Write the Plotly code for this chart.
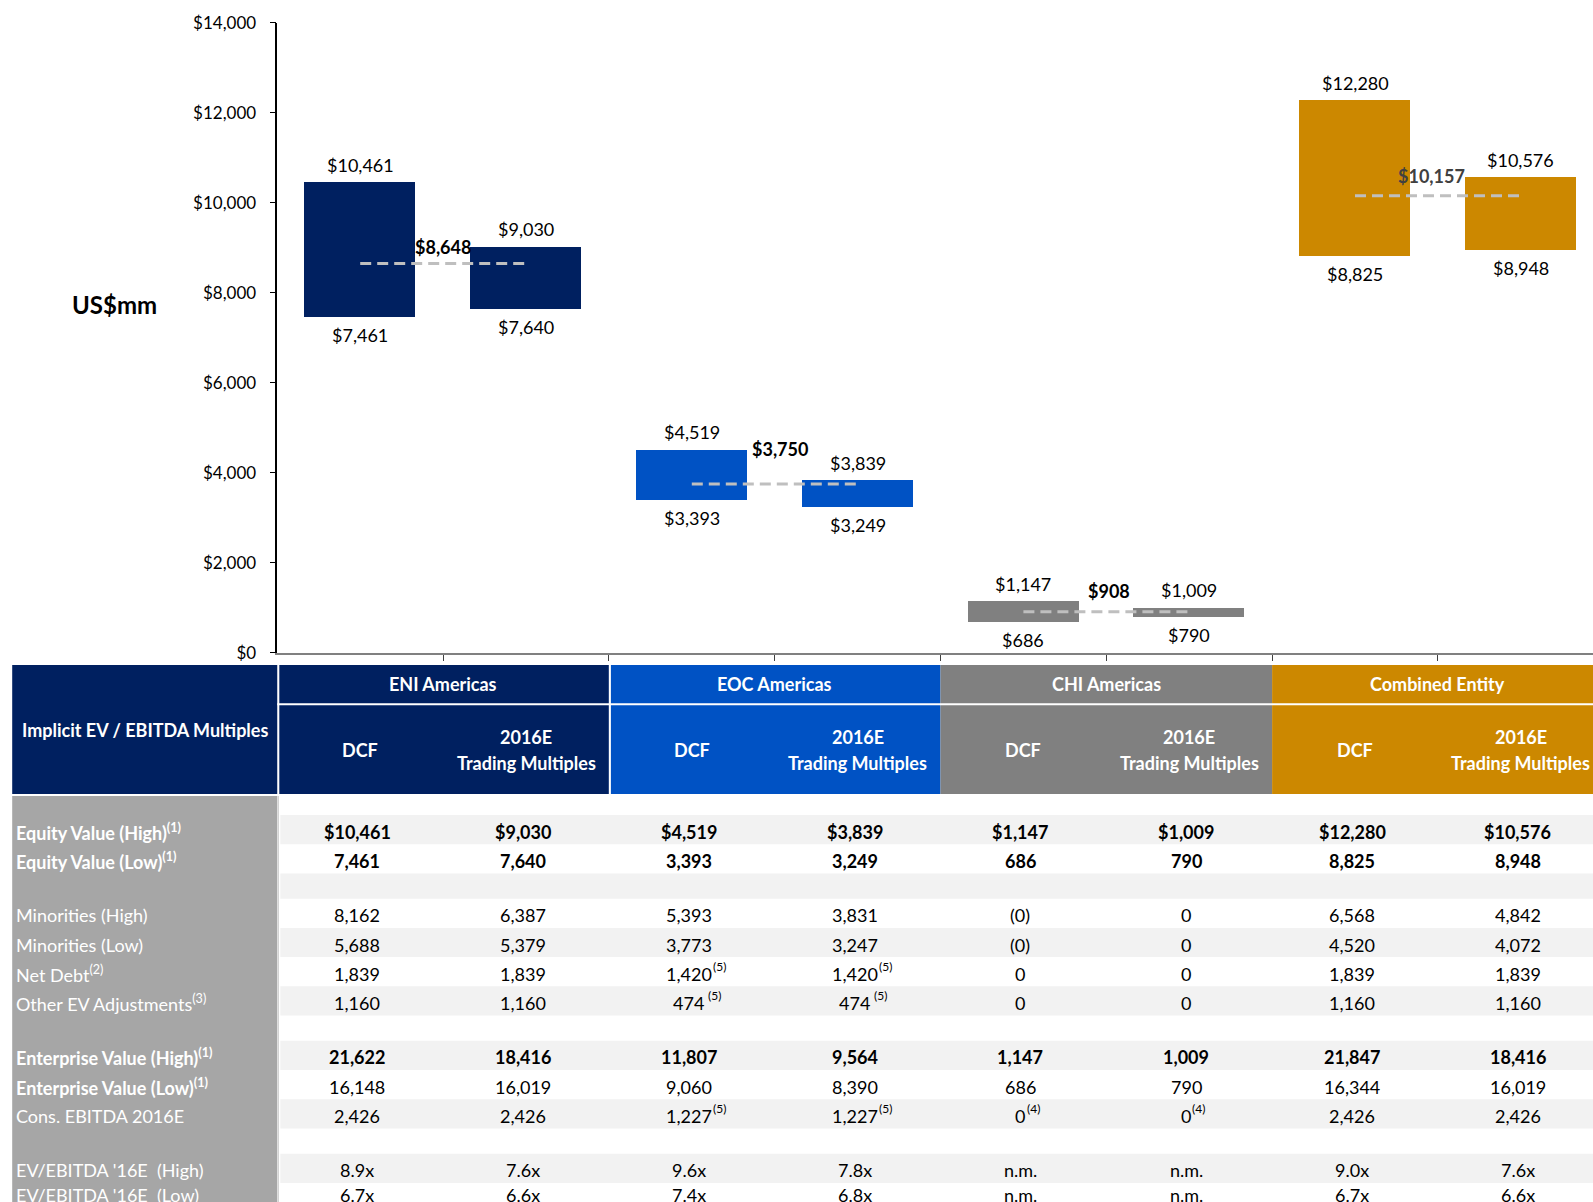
import plotly.graph_objects as go

# ---------------- data ----------------
GROUPS = ["ENI Americas", "EOC Americas", "CHI Americas", "Combined Entity"]
METHODS = ["DCF", "2016E<br>Trading Multiples"]
HIGH = [10461, 9030, 4519, 3839, 1147, 1009, 12280, 10576]
LOW = [7461, 7640, 3393, 3249, 686, 790, 8825, 8948]
MEAN = [8648, 3750, 908, 10157]
Y_TICKS = [0, 2000, 4000, 6000, 8000, 10000, 12000, 14000]
Y_UNIT = "US$mm"
TABLE_TITLE = "Implicit EV / EBITDA Multiples"

ROW_LABELS = [
    None,
    "<b>Equity Value (High)<sup>(1)</sup></b>",
    "<b>Equity Value (Low)<sup>(1)</sup></b>",
    None,
    "Minorities (High)",
    "Minorities (Low)",
    "Net Debt<sup>(2)</sup>",
    "Other EV Adjustments<sup>(3)</sup>",
    None,
    "<b>Enterprise Value (High)<sup>(1)</sup></b>",
    "<b>Enterprise Value (Low)<sup>(1)</sup></b>",
    "Cons. EBITDA 2016E",
    None,
    "EV/EBITDA '16E  (High)",
    "EV/EBITDA '16E  (Low)",
]
EQ_HIGH = ["$10,461", "$9,030", "$4,519", "$3,839", "$1,147", "$1,009", "$12,280", "$10,576"]
EQ_LOW = ["7,461", "7,640", "3,393", "3,249", "686", "790", "8,825", "8,948"]
MIN_HIGH = ["8,162", "6,387", "5,393", "3,831", "(0)", "0", "6,568", "4,842"]
MIN_LOW = ["5,688", "5,379", "3,773", "3,247", "(0)", "0", "4,520", "4,072"]
NET_DEBT = ["1,839", "1,839", "1,420", "1,420", "0", "0", "1,839", "1,839"]
NET_DEBT_NOTE = ["", "", "(5)", "(5)", "", "", "", ""]
OTHER_EV = ["1,160", "1,160", "474", "474", "0", "0", "1,160", "1,160"]
OTHER_EV_NOTE = ["", "", " (5)", " (5)", "", "", "", ""]
EV_HIGH = ["21,622", "18,416", "11,807", "9,564", "1,147", "1,009", "21,847", "18,416"]
EV_LOW = ["16,148", "16,019", "9,060", "8,390", "686", "790", "16,344", "16,019"]
EBITDA = ["2,426", "2,426", "1,227", "1,227", "0", "0", "2,426", "2,426"]
EBITDA_NOTE = ["", "", "(5)", "(5)", "(4)", "(4)", "", ""]
MULT_HIGH = ["8.9x", "7.6x", "9.6x", "7.8x", "n.m.", "n.m.", "9.0x", "7.6x"]
MULT_LOW = ["6.7x", "6.6x", "7.4x", "6.8x", "n.m.", "n.m.", "6.7x", "6.6x"]

ROW_VALUES = [None, EQ_HIGH, EQ_LOW, None, MIN_HIGH, MIN_LOW, NET_DEBT, OTHER_EV,
              None, EV_HIGH, EV_LOW, EBITDA, None, MULT_HIGH, MULT_LOW]
ROW_NOTES = [None, None, None, None, None, None, NET_DEBT_NOTE, OTHER_EV_NOTE,
             None, None, None, EBITDA_NOTE, None, None, None]
ROW_BOLD = [False, True, True, False, False, False, False, False,
            False, True, False, False, False, False, False]

# ---------------- style / layout ----------------
FIG_W, FIG_H = 1593, 1202
FONT = "Lato"
GROUP_COLORS = ["#002060", "#0052C4", "#808080", "#CC8800"]
MEAN_COLORS = ["#000000", "#000000", "#000000", "#404040"]
MEAN_SHIFT = [17, 35, 21, 20]
MEAN_XSHIFT = [0, 5, 3, -6]
LABEL_GRAY = "#A6A6A6"
STRIPE = "#F2F2F2"
DASH_COLOR = "#BFBFBF"
FS = 18

COL_PX = 165.8          # width of one category / table column in px
PLOT_LEFT_PX = 277.3
TABLE_LEFT_PX = 12.2
PLOT_TOP_PX = 22.7
PLOT_BOT_PX = 652.7
TABLE_TOP_PX = 665.0

x_max = -0.5 + (FIG_W - PLOT_LEFT_PX) / COL_PX
x2_min = -0.5 - PLOT_LEFT_PX / COL_PX
label_x0 = -0.5 - (PLOT_LEFT_PX - TABLE_LEFT_PX) / COL_PX

HEAD1_H = 38.3
HEAD_H = 129.0
BODY_GAP = 2.0
ROW_H = [21.0] + [29.2 if lab else 25.3 for lab in ROW_LABELS[1:]]
ROW_H[-1] = 21.0
table_h = FIG_H - TABLE_TOP_PX

fig = go.Figure()

# ---------------- floating bars ----------------
xs = list(range(len(HIGH)))
fig.add_trace(go.Bar(
    x=xs, y=[h - l for h, l in zip(HIGH, LOW)], base=LOW,
    width=0.67, marker=dict(color=[GROUP_COLORS[i // 2] for i in xs], line=dict(width=0)),
    hoverinfo="skip", showlegend=False))

for g, m in enumerate(MEAN):
    fig.add_trace(go.Scatter(
        x=[2 * g, 2 * g + 1], y=[m, m], mode="lines",
        line=dict(color=DASH_COLOR, width=3, dash="11px,6px"),
        hoverinfo="skip", showlegend=False))

ann = []
for i in xs:
    ann.append(dict(x=i, y=HIGH[i], xref="x", yref="y", text=f"${HIGH[i]:,}",
                    showarrow=False, yshift=17, font=dict(size=FS, color="#000")))
    ann.append(dict(x=i, y=LOW[i], xref="x", yref="y", text=f"${LOW[i]:,}",
                    showarrow=False, yshift=-18, font=dict(size=FS, color="#000")))
for g, m in enumerate(MEAN):
    ann.append(dict(x=2 * g + 0.5, y=m, xref="x", yref="y", text=f"<b>${m:,}</b>",
                    showarrow=False, yshift=MEAN_SHIFT[g], xshift=MEAN_XSHIFT[g],
                    font=dict(size=FS, color=MEAN_COLORS[g])))

ann.append(dict(x=114 / FIG_W, y=7730, xref="paper", yref="y", text=f"<b>{Y_UNIT}</b>",
                xanchor="center", showarrow=False, font=dict(size=24, color="#000")))

# ---------------- table ----------------
shapes = []
def rect(x0, x1, y0, y1, color):
    shapes.append(dict(type="rect", xref="x2", yref="y2", x0=x0, x1=x1, y0=y0, y1=y1,
                       fillcolor=color, line=dict(width=0), layer="below"))

rect(label_x0, -0.5, 0, HEAD_H, GROUP_COLORS[0])
for g in range(len(GROUPS)):
    rect(2 * g - 0.5, 2 * g + 1.5, 0, HEAD_H, GROUP_COLORS[g])
rect(label_x0, -0.5, HEAD_H + BODY_GAP, table_h + 20, LABEL_GRAY)

row_tops = []
y = HEAD_H
for h in ROW_H:
    row_tops.append(y)
    y += h
for r, (top, h) in enumerate(zip(row_tops, ROW_H)):
    if r % 2 == 1:
        rect(-0.5 + 3 / COL_PX, x_max + 1, top, top + h, STRIPE)
shapes.append(dict(type="line", xref="x2", yref="y2", x0=-0.5 + 1 / COL_PX, x1=-0.5 + 1 / COL_PX,
                   y0=HEAD_H + BODY_GAP, y1=table_h + 20, line=dict(color="#C8C8C8", width=1)))
shapes.append(dict(type="line", xref="x2", yref="y2", x0=-0.5, x1=x_max + 1,
                   y0=HEAD1_H + 1, y1=HEAD1_H + 1, line=dict(color="white", width=2)))
for xv in (-0.5, 1.5):
    shapes.append(dict(type="line", xref="x2", yref="y2", x0=xv + 1 / COL_PX, x1=xv + 1 / COL_PX,
                       y0=0, y1=HEAD_H, line=dict(color="white", width=2)))

ann.append(dict(x=(label_x0 - 0.5) / 2, y=HEAD_H / 2, xref="x2", yref="y2",
                text=f"<b>{TABLE_TITLE}</b>", showarrow=False,
                font=dict(size=FS, color="white")))
sub_cy = (HEAD1_H + 2 + HEAD_H) / 2
for g, name in enumerate(GROUPS):
    ann.append(dict(x=2 * g + 0.5, y=HEAD1_H / 2, xref="x2", yref="y2", text=f"<b>{name}</b>",
                    showarrow=False, font=dict(size=FS, color="white")))
    for k, meth in enumerate(METHODS):
        lines = meth.split("<br>")
        n = len(lines)
        for li, line in enumerate(lines):
            ann.append(dict(x=2 * g + k, y=sub_cy, xref="x2", yref="y2",
                            text=f"<b>{line}</b>", showarrow=False,
                            yshift=-(li - (n - 1) / 2) * 26,
                            font=dict(size=FS, color="white")))

def text_w(s, fs):
    w = 0.0
    for c in s:
        w += 0.58 if c.isdigit() else (0.22 if c == " " else 0.3)
    return w * fs

for r, lab in enumerate(ROW_LABELS):
    if lab is None:
        continue
    cy = row_tops[r] + ROW_H[r] / 2
    ann.append(dict(x=label_x0 + 2 / COL_PX, y=cy, xref="x2", yref="y2", text=lab,
                    xanchor="left", showarrow=False, yshift=-2,
                    font=dict(size=FS, color="white")))
    vals = ROW_VALUES[r]
    notes = ROW_NOTES[r]
    for j, v in enumerate(vals):
        txt = f"<b>{v}</b>" if ROW_BOLD[r] else v
        ann.append(dict(x=j, y=cy, xref="x2", yref="y2", text=txt, showarrow=False,
                        xshift=-3, yshift=-2, font=dict(size=FS, color="#000")))
        if notes and notes[j]:
            ann.append(dict(x=j, y=cy, xref="x2", yref="y2", text=notes[j], showarrow=False,
                            xanchor="left", xshift=text_w(v, FS) / 2 - 4, yshift=5,
                            font=dict(size=12, color="#000")))

fig.update_layout(
    template="none",
    width=FIG_W, height=FIG_H, margin=dict(l=0, r=0, t=0, b=0, pad=0), autosize=False,
    paper_bgcolor="white", plot_bgcolor="rgba(0,0,0,0)",
    font=dict(family=FONT, color="#000"),
    bargap=0, showlegend=False,
    xaxis=dict(domain=[PLOT_LEFT_PX / FIG_W, 1], range=[-0.5, x_max], anchor="y",
               automargin=False,
               showline=True, linecolor="#808080", linewidth=2, showgrid=False, zeroline=False,
               tickmode="array", tickvals=[i + 0.5 for i in xs], showticklabels=False,
               ticks="outside", ticklen=6, tickcolor="#404040", tickwidth=1),
    yaxis=dict(domain=[1 - PLOT_BOT_PX / FIG_H, 1 - PLOT_TOP_PX / FIG_H], range=[0, 14000],
               anchor="x", automargin=False, showline=True, linecolor="#000", linewidth=1.5,
               showgrid=False, zeroline=False, tickmode="array", tickvals=Y_TICKS,
               ticktext=[f"${v:,}" for v in Y_TICKS], ticks="outside", ticklen=6,
               tickcolor="#000", tickwidth=1,
               ticklabelstandoff=10, tickfont=dict(size=17, color="#000")),
    xaxis2=dict(domain=[0, 1], range=[x2_min, x_max], anchor="y2", visible=False,
                automargin=False),
    yaxis2=dict(domain=[0, 1 - TABLE_TOP_PX / FIG_H], range=[table_h, 0], anchor="x2",
                visible=False, automargin=False),
    shapes=shapes, annotations=ann,
)

fig.write_html("out.html", config={"displayModeBar": False},
               post_script="document.body.style.margin='0';document.body.style.overflow='hidden';")
